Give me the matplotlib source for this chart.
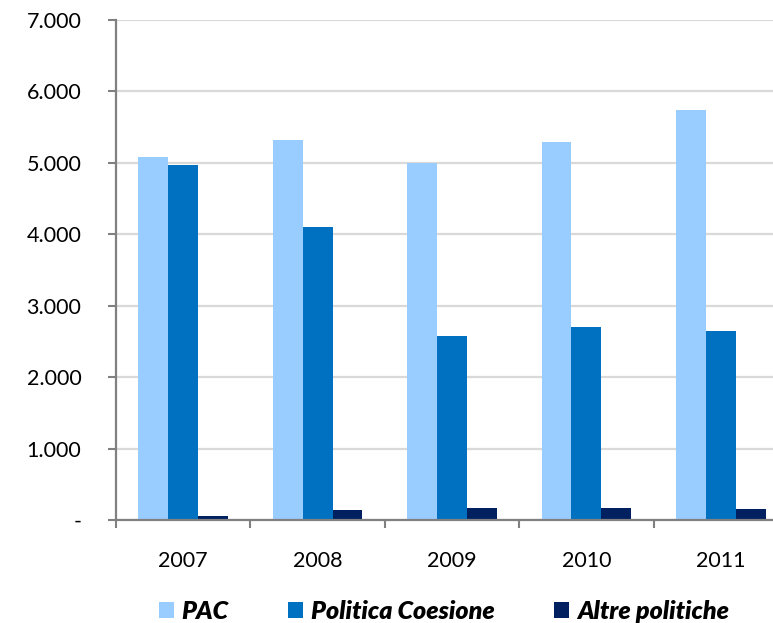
import matplotlib.pyplot as plt
import numpy as np
from matplotlib.patches import Patch

plt.rcParams['font.family'] = ['Lato', 'DejaVu Sans']

years = ['2007', '2008', '2009', '2010', '2011']
pac = [5080, 5315, 5000, 5290, 5745]
coesione = [4975, 4105, 2570, 2705, 2640]
altre = [53, 145, 170, 165, 150]

series_names = ['PAC', 'Politica Coesione', 'Altre politiche']
colors = ['#99CCFF', '#0070C0', '#002060']

y_ticks = [0, 1000, 2000, 3000, 4000, 5000, 6000, 7000]
y_labels = ['-', '1.000', '2.000', '3.000', '4.000', '5.000', '6.000', '7.000']

fig = plt.figure(figsize=(7.73, 6.23), dpi=100)
# plot area runs past the right edge of the figure
ax = fig.add_axes([116 / 773, 103 / 623, 672 / 773, 500 / 623])

x = np.arange(len(years))
w = 0.222
for j, (vals, c) in enumerate(zip([pac, coesione, altre], colors)):
    ax.bar(x + (j - 1) * w, vals, width=w, color=c, zorder=3)

ax.set_xlim(-0.5, len(years) - 0.5)
ax.set_ylim(0, 7000)

# y axis
ax.set_yticks(y_ticks)
ax.set_yticklabels(y_labels, fontsize=15.5, color='#000000')
ax.tick_params(axis='y', length=6, width=1.5, color='#808080', pad=19)
ax.grid(axis='y', color='#d9d9d9', linewidth=1.6, zorder=0)

# x axis: tick marks between groups, labels centred under groups
ax.set_xticks(np.arange(-0.5, len(years), 1.0))
ax.set_xticklabels([])
ax.set_xticks(x, minor=True)
ax.set_xticklabels(years, minor=True, fontsize=15.5)
ax.tick_params(axis='x', which='major', length=6, width=1.5, color='#808080')
ax.tick_params(axis='x', which='minor', length=0, pad=22)

for side in ['top', 'right']:
    ax.spines[side].set_visible(False)
for side in ['left', 'bottom']:
    ax.spines[side].set_color('#808080')
    ax.spines[side].set_linewidth(1.6)
    ax.spines[side].set_zorder(4)

handles = [Patch(facecolor=c, edgecolor='none') for c in colors]
fig.legend(handles, series_names, loc='center', bbox_to_anchor=(0.574, 0.019),
           ncol=3, frameon=False, borderpad=0,
           prop={'size': 18, 'weight': 'heavy', 'style': 'italic'},
           handlelength=0.6, handleheight=0.6, handletextpad=0.3,
           columnspacing=2.4)

fig.savefig('out.png', dpi=100)
